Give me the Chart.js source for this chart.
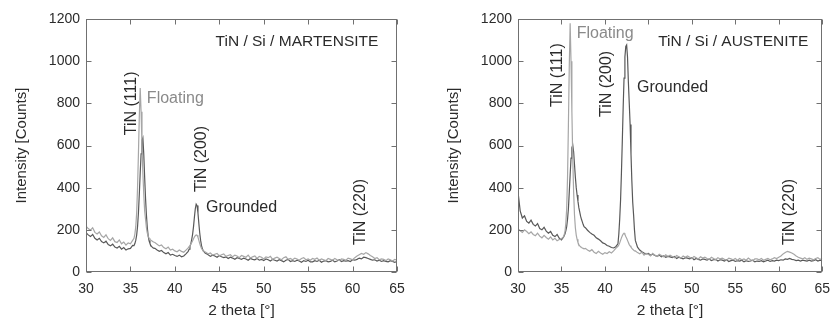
<!DOCTYPE html>
<html>
<head>
<meta charset="utf-8">
<script src="https://cdn.jsdelivr.net/npm/chart.js@4.4.1/dist/chart.umd.min.js"></script>
<style>
  html, body { margin: 0; padding: 0; background: #fff; }
  .panel { position: absolute; top: 0; height: 320px; }
  #left { left: 0; width: 420px; }
  #right { left: 420px; width: 419px; }
</style>
</head>
<body>
<div class="panel" id="left"><canvas id="cL"></canvas></div>
<div class="panel" id="right"><canvas id="cR"></canvas></div>
<script>
// 2 theta sample positions (deg), finer around the TiN (111) and (200) peaks
const theta = [
  30, 30.25, 30.5, 30.75, 31, 31.25, 31.5, 31.75, 32, 32.25, 32.5, 32.75, 33, 33.25, 33.5, 33.75, 34, 34.25, 34.5, 34.75, 35, 35.25,
  35.4, 35.5, 35.6, 35.7, 35.8, 35.9, 36, 36.1, 36.2, 36.3, 36.4, 36.5, 36.6, 36.7, 36.8, 36.9, 37, 37.1, 37.2, 37.3, 37.4, 37.5, 37.6,
  37.75, 38, 38.25, 38.5, 38.75, 39, 39.25, 39.5, 39.75, 40, 40.25, 40.5, 40.75, 41, 41.25, 41.5,
  41.6, 41.7, 41.8, 41.9, 42, 42.1, 42.2, 42.3, 42.4, 42.5, 42.6, 42.7, 42.8, 42.9, 43, 43.1, 43.2, 43.3, 43.4,
  43.5, 43.75, 44, 44.25, 44.5, 44.75, 45, 45.25, 45.5, 45.75, 46, 46.25, 46.5, 46.75, 47, 47.25,
  47.5, 47.75, 48, 48.25, 48.5, 48.75, 49, 49.25, 49.5, 49.75, 50, 50.25, 50.5, 50.75, 51, 51.25,
  51.5, 51.75, 52, 52.25, 52.5, 52.75, 53, 53.25, 53.5, 53.75, 54, 54.25, 54.5, 54.75, 55, 55.25,
  55.5, 55.75, 56, 56.25, 56.5, 56.75, 57, 57.25, 57.5, 57.75, 58, 58.25, 58.5, 58.75, 59, 59.25,
  59.5, 59.75, 60, 60.25, 60.5, 60.75, 61, 61.25, 61.5, 61.75, 62, 62.25, 62.5, 62.75, 63, 63.25,
  63.5, 63.75, 64, 64.25, 64.5, 64.75, 65,
];

// TiN / Si / MARTENSITE
const martFloating = [
  218, 206, 198, 210, 188, 180, 190, 172, 164, 176, 158, 150, 162, 144, 140, 152, 134, 142, 128, 138, 134, 150,
  160, 180, 215, 280, 400, 560, 740, 873, 760, 600, 470, 370, 290, 250, 210, 185, 170, 160, 155, 150, 148, 145, 142,
  140, 132, 124, 128, 116, 110, 118, 104, 108, 100, 96, 104, 98, 94, 104, 114,
  120, 125, 132, 140, 148, 158, 166, 172, 176, 174, 165, 150, 135, 122, 112, 106, 100, 98, 95,
  94, 86, 90, 80, 84, 88, 76, 82, 86, 74, 78, 82, 72, 80, 76, 68,
  78, 74, 70, 80, 66, 72, 76, 64, 74, 70, 62, 72, 68, 74, 60, 66,
  70, 64, 58, 68, 72, 60, 64, 58, 66, 62, 56, 64, 68, 58, 62, 56,
  64, 60, 66, 56, 62, 58, 54, 64, 60, 56, 64, 58, 54, 62, 60, 56,
  66, 62, 58, 68, 76, 82, 88, 84, 92, 86, 78, 72, 64, 68, 58, 62,
  60, 54, 62, 58, 52, 60, 56,
];
const martGrounded = [
  186, 176, 168, 178, 160, 152, 160, 144, 138, 146, 130, 124, 132, 118, 114, 122, 108, 116, 104, 110, 112, 126,
  125, 135, 150, 175, 215, 280, 370, 470, 560, 625, 636, 560, 450, 350, 270, 210, 170, 148, 135, 125, 120, 116, 113,
  112, 104, 98, 102, 92, 86, 92, 80, 84, 78, 74, 80, 72, 76, 86, 98,
  108, 120, 135, 155, 180, 215, 260, 300, 322, 315, 280, 230, 185, 150, 125, 110, 100, 95, 90,
  88, 82, 74, 80, 76, 70, 78, 72, 68, 72, 64, 70, 66, 60, 68, 64,
  60, 66, 62, 56, 64, 60, 58, 64, 56, 60, 54, 62, 58, 52, 60, 56,
  52, 58, 54, 48, 56, 60, 50, 54, 50, 56, 52, 46, 54, 50, 56, 48,
  48, 54, 50, 56, 46, 52, 54, 48, 50, 56, 48, 52, 58, 50, 54, 52,
  54, 50, 58, 56, 60, 66, 62, 70, 68, 64, 60, 56, 58, 52, 56, 50,
  54, 50, 48, 54, 50, 46, 50,
];

// TiN / Si / AUSTENITE
const austFloating = [
  205, 196, 188, 200, 192, 182, 190, 178, 172, 184, 170, 162, 174, 164, 156, 166, 152, 160, 148, 154, 158, 168,
  190, 230, 300, 450, 700, 980, 1180, 1000, 760, 540, 380, 270, 210, 175, 155, 140, 130, 124, 120, 116, 114, 112, 110,
  112, 104, 98, 106, 94, 88, 98, 90, 84, 92, 88, 96, 90, 100, 112, 122,
  128, 138, 150, 162, 172, 180, 184, 178, 168, 160, 150, 140, 130, 124, 118, 112, 108, 104, 100,
  100, 92, 86, 94, 80, 88, 84, 76, 88, 80, 74, 84, 78, 72, 82, 74,
  80, 74, 68, 78, 72, 66, 76, 70, 76, 70, 64, 74, 68, 62, 72, 66,
  70, 64, 60, 70, 64, 58, 68, 62, 66, 60, 56, 66, 62, 58, 64, 56,
  64, 58, 62, 56, 66, 58, 54, 62, 62, 58, 64, 56, 60, 64, 58, 62,
  68, 64, 70, 76, 86, 92, 98, 94, 90, 84, 76, 70, 66, 62, 68, 60,
  66, 62, 58, 64, 68, 60, 64,
];
const austGrounded = [
  380, 290, 256, 266, 240, 232, 246, 226, 218, 230, 206, 200, 212, 194, 184, 192, 174, 168, 178, 160, 152, 166,
  180, 195, 215, 250, 300, 380, 460, 540, 590, 602, 570, 510, 450, 400, 365, 335, 305, 285, 265, 250, 238, 225, 215,
  210, 198, 188, 180, 174, 162, 156, 148, 138, 134, 126, 122, 116, 114, 120, 134,
  180, 250, 340, 470, 620, 780, 920, 1020, 1070, 1077, 1020, 900, 800, 700, 560, 430, 330, 270, 200,
  150, 118, 104, 96, 90, 86, 88, 80, 84, 78, 74, 80, 72, 76, 70, 74,
  72, 68, 74, 64, 70, 66, 62, 68, 66, 62, 68, 58, 64, 60, 56, 62,
  60, 56, 62, 54, 58, 60, 52, 58, 56, 52, 58, 50, 54, 56, 50, 54,
  52, 56, 48, 54, 50, 52, 56, 48, 52, 50, 54, 48, 52, 56, 50, 54,
  52, 56, 54, 58, 56, 62, 60, 64, 60, 58, 54, 56, 52, 56, 54, 52,
  56, 52, 54, 58, 52, 56, 54,
];

const xTicks = [30, 35, 40, 45, 50, 55, 60, 65];
const yTicks = [0, 200, 400, 600, 800, 1000, 1200];

const INK = "#2b2b2b";
const FLOAT_COL = "#a6a6a6";
const GROUND_COL = "#585858";
const FONT = "'Liberation Sans', Arial, Helvetica, sans-serif";

Chart.defaults.font.family = FONT;
Chart.defaults.font.size = 14;
Chart.defaults.color = INK;

// box around the plot with inward tick marks on all four sides
const framePlugin = {
  id: "frame",
  afterDatasetsDraw(chart) {
    const { ctx, chartArea: a, scales: { x, y } } = chart;
    const L = Math.round(a.left) + 0.5, R = Math.round(a.right) - 0.5;
    const T = Math.round(a.top) + 0.5, B = Math.round(a.bottom) - 0.5;
    ctx.save();
    ctx.strokeStyle = "#707070";
    ctx.lineWidth = 1;
    ctx.strokeRect(L, T, R - L, B - T);
    ctx.beginPath();
    for (const t of x.ticks) {
      const px = Math.round(x.getPixelForValue(t.value)) + 0.5;
      ctx.moveTo(px, B); ctx.lineTo(px, B - 5);
      ctx.moveTo(px, T); ctx.lineTo(px, T + 5);
    }
    for (const t of y.ticks) {
      const py = Math.round(y.getPixelForValue(t.value)) + 0.5;
      ctx.moveTo(L, py); ctx.lineTo(L + 5, py);
      ctx.moveTo(R, py); ctx.lineTo(R - 5, py);
    }
    ctx.stroke();
    ctx.restore();
  },
};

// peak labels placed in data coordinates
const peakLabels = {
  id: "peakLabels",
  afterDraw(chart, _args, opts) {
    const { ctx, scales: { x, y } } = chart;
    for (const l of opts.items || []) {
      ctx.save();
      ctx.translate(x.getPixelForValue(l.x), y.getPixelForValue(l.y));
      if (l.vertical) ctx.rotate(-Math.PI / 2);
      ctx.font = `${l.size || 16}px ${FONT}`;
      ctx.fillStyle = l.color || INK;
      ctx.textAlign = l.align || "center";
      ctx.textBaseline = "middle";
      ctx.fillText(l.text, 0, 0);
      ctx.restore();
    }
  },
};
Chart.register(framePlugin, peakLabels);

function series(ys) {
  return theta.map((t, i) => ({ x: t, y: ys[i] }));
}

function xrdPanel(canvas, floating, grounded, labels, axisWidth, padRight, yTitlePad) {
  return new Chart(canvas, {
    type: "line",
    data: {
      datasets: [
        { label: "Floating", data: series(floating), borderColor: FLOAT_COL, borderWidth: 1.2, pointRadius: 0, tension: 0 },
        { label: "Grounded", data: series(grounded), borderColor: GROUND_COL, borderWidth: 1.2, pointRadius: 0, tension: 0 },
      ],
    },
    options: {
      responsive: true, maintainAspectRatio: false, animation: false,
      layout: { padding: { left: 0, right: padRight, top: 19, bottom: 0 } },
      plugins: {
        legend: { display: false },
        tooltip: { enabled: false },
        peakLabels: { items: labels },
      },
      scales: {
        x: {
          type: "linear", min: 30, max: 65,
          afterBuildTicks: (s) => { s.ticks = xTicks.map((v) => ({ value: v })); },
          afterFit: (s) => { s.height = 48; },
          ticks: { padding: 9, color: INK, font: { size: 14 }, callback: (v) => String(v) },
          grid: { display: false, drawTicks: false },
          border: { display: false },
          title: { display: true, text: "2 theta [°]", color: INK, font: { size: 15.5 }, padding: { top: 0, bottom: 0 } },
        },
        y: {
          min: 0, max: 1200,
          afterBuildTicks: (s) => { s.ticks = yTicks.map((v) => ({ value: v })); },
          afterFit: (s) => { s.width = axisWidth; },
          ticks: { padding: 6, color: INK, font: { size: 14 }, callback: (v) => String(v) },
          grid: { display: false, drawTicks: false },
          border: { display: false },
          title: { display: true, text: "Intensity [Counts]", color: INK, font: { size: 15 }, padding: { top: yTitlePad, bottom: 0 } },
        },
      },
    },
  });
}

xrdPanel(document.getElementById("cL"), martFloating, martGrounded, [
  { text: "TiN / Si / MARTENSITE", x: 62.9, y: 1090, align: "right", size: 15.5 },
  { text: "TiN (111)", x: 35.1, y: 800, vertical: true },
  { text: "Floating", x: 36.85, y: 822, align: "left", color: "#8a8a8a" },
  { text: "TiN (200)", x: 43.05, y: 536, vertical: true },
  { text: "Grounded", x: 43.5, y: 304, align: "left" },
  { text: "TiN (220)", x: 60.95, y: 285, vertical: true },
], 86, 23, 13);

xrdPanel(document.getElementById("cR"), austFloating, austGrounded, [
  { text: "TiN / Si / AUSTENITE", x: 63.4, y: 1090, align: "right", size: 15.5 },
  { text: "TiN (111)", x: 34.5, y: 934, vertical: true },
  { text: "Floating", x: 36.75, y: 1129, align: "left", color: "#8a8a8a" },
  { text: "TiN (200)", x: 40.25, y: 892, vertical: true },
  { text: "Grounded", x: 43.7, y: 873, align: "left" },
  { text: "TiN (220)", x: 61.3, y: 285, vertical: true },
], 98, 10, 25);
</script>
</body>
</html>
